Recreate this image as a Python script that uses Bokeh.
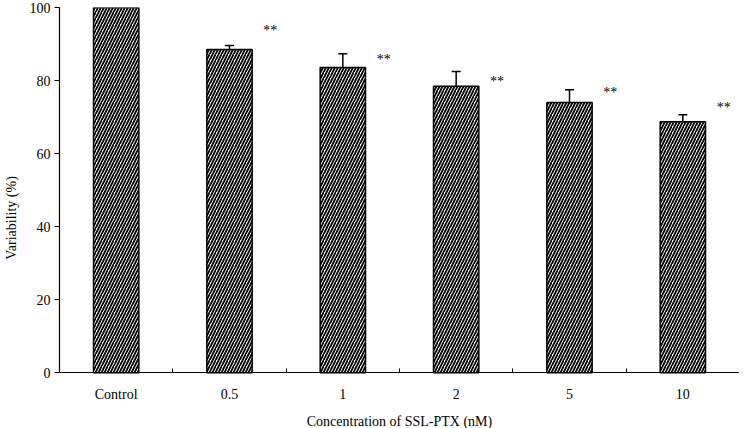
from bokeh.plotting import figure
from bokeh.models import (ColumnDataSource, Range1d, FixedTicker, Whisker, TeeHead)
from bokeh.core.properties import value
from bokeh.embed import file_html
from bokeh.resources import INLINE

categories = ["Control", "0.5", "1", "2", "5", "10"]
viability = [100.0, 88.5, 83.6, 78.4, 74.0, 68.7]
sd = [0.0, 1.1, 3.7, 4.1, 3.5, 1.9]
star_labels = ["", "**", "**", "**", "**", "**"]
star_level = [0, 94.2, 86.3, 80.3, 77.3, 73.2]
x_title = "Concentration of SSL-PTX (nM)"
y_title = "Variability (%)"

FONT = "Liberation Serif"

xc = [i + 0.5 for i in range(len(categories))]
src = ColumnDataSource(dict(x=xc, top=viability))

p = figure(width=739, height=428, output_backend="svg", toolbar_location=None,
           x_range=Range1d(0, len(categories)), y_range=Range1d(-15.3, 100))
p.min_border_left = 47
p.min_border_right = 0
p.min_border_top = 7
p.min_border_bottom = 0
p.outline_line_color = None
p.xgrid.visible = False
p.ygrid.visible = False

p.vbar(x="x", top="top", width=0.4, bottom=0, source=src,
       fill_color="white", line_color="black", line_width=1.5,
       hatch_pattern="/", hatch_color="black", hatch_scale=6, hatch_weight=1.8)

err_idx = [i for i, s in enumerate(sd) if s > 0]
esrc = ColumnDataSource(dict(
    x=[xc[i] for i in err_idx],
    upper=[viability[i] + sd[i] for i in err_idx],
    lower=[viability[i] for i in err_idx],
))
w = Whisker(base="x", upper="upper", lower="lower", source=esrc,
            line_color="black", line_width=1.5,
            upper_head=TeeHead(size=9, line_color="black", line_width=1.5),
            lower_head=None)
p.add_layout(w)

s_idx = [i for i, s in enumerate(star_labels) if s]
ssrc = ColumnDataSource(dict(
    x=[xc[i] + 0.36 for i in s_idx],
    y=[star_level[i] for i in s_idx],
    t=[star_labels[i] for i in s_idx],
))
p.text(x="x", y="y", text="t", source=ssrc, text_font=value(FONT),
       text_font_size="14px", text_align="center", text_baseline="middle",
       text_color="black", y_offset=2)

# x axis pinned at y = 0
p.xaxis.fixed_location = 0
p.xaxis.ticker = FixedTicker(ticks=xc, minor_ticks=list(range(len(categories) + 1)))
p.xaxis.major_label_overrides = {x: c for x, c in zip(xc, categories)}
p.xaxis.major_tick_in = 0
p.xaxis.major_tick_out = 0
p.xaxis.minor_tick_in = 4
p.xaxis.minor_tick_out = 0
p.xaxis.minor_tick_line_color = "black"
p.xaxis.axis_label = x_title
p.xaxis.major_label_standoff = 14
p.xaxis.axis_label_standoff = 9

p.yaxis.ticker = FixedTicker(ticks=[0, 20, 40, 60, 80, 100])
p.yaxis.bounds = (0, 100)
p.yaxis.major_tick_in = 0
p.yaxis.major_tick_out = 5
p.yaxis.minor_tick_line_color = None
p.yaxis.axis_label = y_title
p.yaxis.major_label_standoff = 4
p.yaxis.axis_label_standoff = 8

for ax in (p.xaxis[0], p.yaxis[0]):
    ax.axis_line_color = "black"
    ax.axis_line_width = 1.2
    ax.major_tick_line_color = "black"
    ax.major_tick_line_width = 1.2
    ax.major_label_text_font = FONT
    ax.major_label_text_font_size = "14px"
    ax.major_label_text_color = "black"
    ax.axis_label_text_font = FONT
    ax.axis_label_text_font_size = "14px"
    ax.axis_label_text_font_style = "normal"
    ax.axis_label_text_color = "black"

open("out.html", "w").write(file_html(p, INLINE))
